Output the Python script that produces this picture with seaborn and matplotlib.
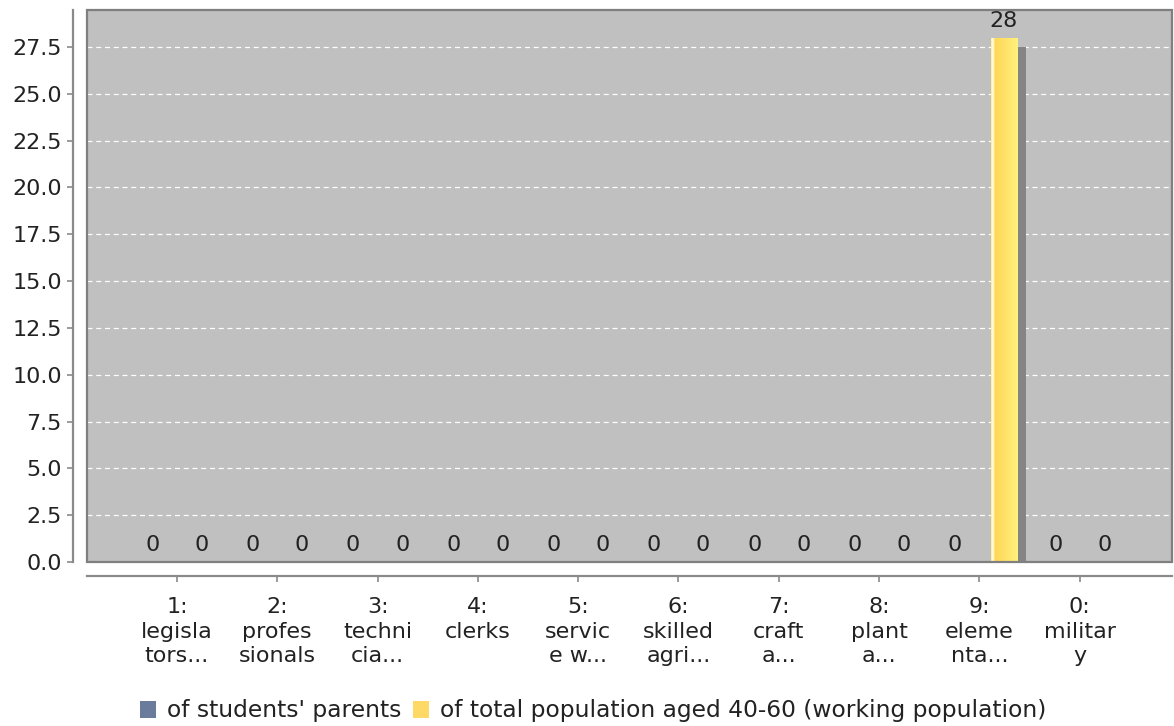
import numpy as np
import pandas as pd
import matplotlib
matplotlib.use("Agg")
import matplotlib.pyplot as plt
import matplotlib.transforms as mtransforms
from matplotlib.patches import Rectangle, Patch
from matplotlib.colors import LinearSegmentedColormap
import seaborn as sns

# ---- data -------------------------------------------------------------
categories = [
    "1:\nlegisla\ntors...", "2:\nprofes\nsionals", "3:\ntechni\ncia...",
    "4:\nclerks", "5:\nservic\ne w...", "6:\nskilled\nagri...",
    "7:\ncraft\na...", "8:\nplant\na...", "9:\neleme\nnta...", "0:\nmilitar\ny",
]
series_names = ["of students' parents",
                "of total population aged 40-60 (working population)"]
students_parents = [0, 0, 0, 0, 0, 0, 0, 0, 0, 0]
total_population = [0, 0, 0, 0, 0, 0, 0, 0, 28, 0]
y_ticks = [0.0, 2.5, 5.0, 7.5, 10.0, 12.5, 15.0, 17.5, 20.0, 22.5, 25.0, 27.5]
series_colors = ["#6b7b9b", "#ffd966"]

df = pd.DataFrame({
    "category": categories * 2,
    "series": [series_names[0]] * len(categories) + [series_names[1]] * len(categories),
    "value": students_parents + total_population,
})

# ---- style ------------------------------------------------------------
sns.set_style("white")
plt.rcParams["font.family"] = ["DejaVu Sans"]
FS = 16
TXT = "#222222"
AXIS_GREY = "#8a8a8a"

fig = plt.figure(figsize=(11.74, 7.26), dpi=100)
W, H = 1174, 726
ax = fig.add_axes([87 / W, 1 - 562 / H, (1172 - 87) / W, (562 - 10) / H])
ax.set_facecolor("#c0c0c0")

sns.barplot(data=df, x="category", y="value", hue="series",
            hue_order=series_names, palette=series_colors,
            width=0.98, gap=0.47, saturation=1, ax=ax,
            edgecolor="none", linewidth=0, legend=False, zorder=3)

# gradient fill + drop shadow for the bars
grad = LinearSegmentedColormap.from_list(
    "bar_grad",
    [(0.0, "#ffe27a"), (0.04, "#fffbe6"), (0.09, "#fff6cc"),
     (0.15, "#ffd755"), (0.6, "#ffe46c"), (1.0, "#fff27c")])
shadow_off = mtransforms.ScaledTranslation(9 / 100, -9 / 100, fig.dpi_scale_trans)
for container in ax.containers:
    for p in container.patches:
        if p.get_height() <= 0:
            continue
        x0, y0 = p.get_x(), p.get_y()
        w, h = p.get_width(), p.get_height()
        sh = Rectangle((x0, y0), w, h, facecolor="#858585", edgecolor="none",
                       transform=ax.transData + shadow_off, zorder=2)
        ax.add_patch(sh)
        if p.get_facecolor()[0] > 0.9:  # yellow series gets the sheen
            img = ax.imshow(np.linspace(0, 1, 256)[None, :], cmap=grad,
                            extent=[x0, x0 + w, y0, y0 + h], aspect="auto",
                            zorder=4, interpolation="bilinear")
            img.set_clip_path(p)

for container in ax.containers:
    ax.bar_label(container, fmt="%d", padding=5, fontsize=FS, color=TXT, zorder=6)

# axes limits and grid
ax.set_xlim(-0.897, 9.92)
ax.set_ylim(0, 29.47)
ax.set_yticks(y_ticks)
ax.set_yticklabels([f"{t:.1f}" for t in y_ticks])
ax.yaxis.grid(True, color="white", linestyle=(0, (4, 3)), linewidth=0.9, zorder=1)
ax.xaxis.grid(False)
ax.set_axisbelow(True)
ax.set_xlabel("")
ax.set_ylabel("")

# detached axis lines and plot outline
for side in ["top", "right"]:
    ax.spines[side].set_visible(False)
for side in ["left", "bottom"]:
    ax.spines[side].set_position(("outward", 10))
    ax.spines[side].set_color(AXIS_GREY)
    ax.spines[side].set_linewidth(1.6)
ax.add_patch(Rectangle((0, 0), 1, 1, transform=ax.transAxes, fill=False,
                       edgecolor="#7f7f7f", linewidth=1.6, zorder=7, clip_on=False))

ax.tick_params(axis="both", which="both", direction="out", length=4,
               width=1.2, color=AXIS_GREY, labelsize=FS, labelcolor=TXT,
               bottom=True, left=True, top=False, right=False)
ax.tick_params(axis="y", pad=4)
ax.tick_params(axis="x", pad=11)
for lbl in ax.get_xticklabels():
    lbl.set_linespacing(1.3)
    lbl.set_horizontalalignment("center")

# legend along the bottom
handles = [Patch(facecolor=c, edgecolor="none") for c in series_colors]
fig.legend(handles, series_names, loc="center", bbox_to_anchor=(0.505, 1 - 711 / H),
           ncol=2, frameon=False, fontsize=16.8, handlelength=0.7, handleheight=0.7,
           handletextpad=0.45, columnspacing=0.5, labelcolor=TXT)

fig.savefig("out.png", dpi=100)
